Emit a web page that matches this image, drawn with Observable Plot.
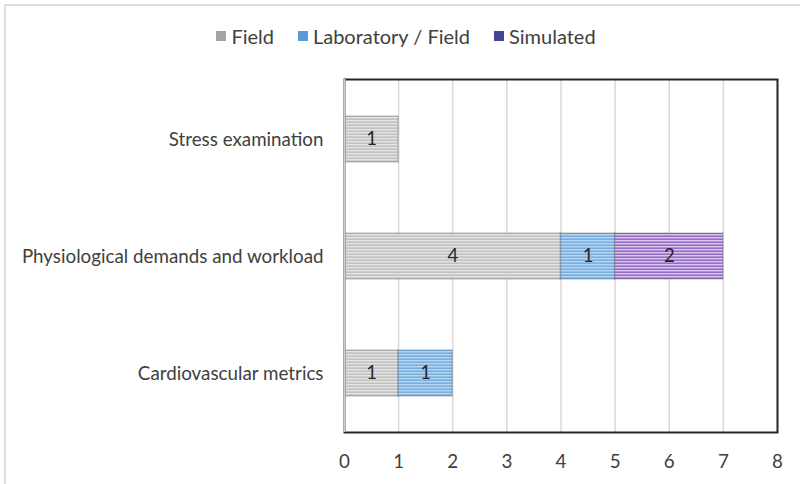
<!DOCTYPE html>
<html><head><meta charset="utf-8">
<script src="https://cdn.jsdelivr.net/npm/d3@7"></script>
<script src="https://cdn.jsdelivr.net/npm/@observablehq/plot@0.6"></script>
<style>
body{margin:0;background:#fff;font-family:Lato,"Open Sans",sans-serif;}
#wrap{position:relative;width:800px;height:484px;overflow:hidden;background:#fff}
#frame{position:absolute;left:4px;top:4px;width:820px;height:500px;border-left:2px solid #dcdcdc;border-top:2px solid #dcdcdc;pointer-events:none}
#legend{position:absolute;top:24px;left:6px;width:800px;display:flex;justify-content:center;gap:24px;font-size:20px;color:#404040}
#legend span.item{display:flex;align-items:center}
.sw{display:inline-block;width:10px;height:10px;margin-right:5px}
#chart{position:absolute;left:0;top:0}
</style>
</head><body>
<svg width="0" height="0" style="position:absolute">
  <defs>
    <pattern id="pField" patternUnits="userSpaceOnUse" width="4" height="3">
      <rect width="4" height="3" fill="#c2c2c2"/><rect width="4" height="1.4" fill="#e4e4e4"/>
    </pattern>
    <pattern id="pLab" patternUnits="userSpaceOnUse" width="4" height="3">
      <rect width="4" height="3" fill="#79afe0"/><rect width="4" height="1.4" fill="#b5d5f1"/>
    </pattern>
    <pattern id="pSim" patternUnits="userSpaceOnUse" width="4" height="3">
      <rect width="4" height="3" fill="#9670c6"/><rect width="4" height="1.4" fill="#dcc4ef"/>
    </pattern>
  </defs>
</svg>
<div id="wrap">
  <div id="chart"></div>
  <div id="legend"></div>
  <div id="frame"></div>
</div>
<script>
const categories = ["Stress examination", "Physiological demands and workload", "Cardiovascular metrics"];
const series = ["Field", "Laboratory / Field", "Simulated"];
const fieldValues = [1, 4, 1];
const labFieldValues = [0, 1, 1];
const simulatedValues = [0, 2, 0];
const xTicks = [0, 1, 2, 3, 4, 5, 6, 7, 8];

const seriesPatterns = ["url(#pField)", "url(#pLab)", "url(#pSim)"];
const legendColors = ["#a5a5a5", "#5b9bd5", "#44449a"];

const valuesBySeries = [fieldValues, labFieldValues, simulatedValues];
const rows = [];
series.forEach((s, si) => {
  categories.forEach((c, ci) => {
    const v = valuesBySeries[si][ci];
    if (v > 0) rows.push({category: c, series: s, value: v});
  });
});

const chart = Plot.plot({
  width: 800,
  height: 484,
  marginLeft: 344,
  marginRight: 23,
  marginTop: 79,
  marginBottom: 52,
  style: {fontFamily: "Lato, 'Open Sans', sans-serif", fontSize: "18.8px", color: "#404040", background: "transparent"},
  x: {domain: [0, 8], ticks: xTicks, label: null, tickSize: 0, tickPadding: 22},
  y: {domain: categories, label: null, paddingInner: 0.61, paddingOuter: 0.305, tickSize: 0, tickPadding: 21},
  color: {domain: series, range: seriesPatterns},
  marks: [
    Plot.gridX(xTicks, {stroke: "#dadada", strokeOpacity: 1, strokeWidth: 1.5}),
    Plot.barX(rows, Plot.stackX({x: "value", y: "category", fill: "series", stroke: "black", strokeOpacity: 0.18, strokeWidth: 1.5})),
    Plot.frame({stroke: "#262626", strokeWidth: 2}),
    Plot.ruleX([0], {stroke: "#cfcfcf", strokeWidth: 2}),
    Plot.text(rows, Plot.stackX({x: "value", y: "category", text: d => String(d.value), fill: "#262626", fontSize: 18.5}))
  ]
});
document.getElementById("chart").appendChild(chart);

const legend = d3.select("#legend");
series.forEach((s, i) => {
  const item = legend.append("span").attr("class", "item");
  item.append("span").attr("class", "sw").style("background", legendColors[i]);
  item.append("span").text(s);
});
</script>
</body></html>
